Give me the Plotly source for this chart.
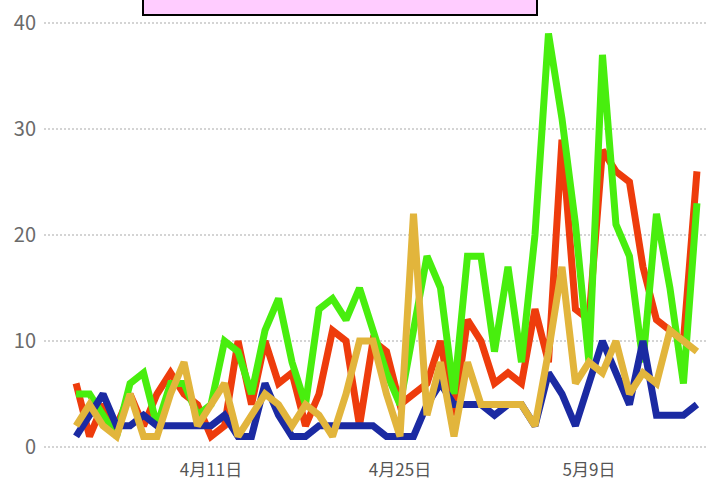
import plotly.graph_objects as go
import pandas as pd

dates = pd.date_range("2020-04-01", "2020-05-17", freq="D")

blue = [1, 3, 5, 2, 2, 3, 2, 2, 2, 2,
        2, 3, 1, 1, 6, 3, 1, 1, 2, 2,
        2, 2, 2, 1, 1, 1, 4, 6, 4, 4,
        4, 3, 4, 4, 2, 7, 5, 2, 6, 10,
        7, 4, 10, 3, 3, 3, 4]
red = [6, 1, 4, 2, 5, 2, 5, 7, 5, 4,
       1, 2, 10, 4, 10, 6, 7, 2, 5, 11,
       10, 2, 10, 9, 4, 5, 6, 10, 3, 12,
       10, 6, 7, 6, 13, 8, 29, 13, 12, 28,
       26, 25, 17, 12, 11, 10, 26]
green = [5, 5, 3, 1, 6, 7, 2, 6, 6, 3,
         4, 10, 9, 5, 11, 14, 8, 4, 13, 14,
         12, 15, 11, 7, 4, 11, 18, 15, 5, 18,
         18, 9, 17, 8, 20, 39, 31, 21, 8, 37,
         21, 18, 8, 22, 15, 6, 23]
gold = [2, 4, 2, 1, 5, 1, 1, 5, 8, 2,
        4, 6, 1, 3, 5, 4, 2, 4, 3, 1,
        5, 10, 10, 5, 1, 22, 3, 8, 1, 8,
        4, 4, 4, 4, 2, 9, 17, 6, 8, 7,
        10, 5, 7, 6, 11, 10, 9]

tick_dates = ["2020-04-11", "2020-04-25", "2020-05-09"]
tick_text = ["4月11日", "4月25日", "5月9日"]

series = [
    ("系列2", red, "#ee3c0c"),
    ("系列3", green, "#48ee0e"),
    ("系列1", blue, "#1b2aa2"),
    ("系列4", gold, "#e2b53c"),
]

fig = go.Figure()
for name, vals, color in series:
    fig.add_trace(go.Scatter(x=dates, y=vals, name=name, mode="lines",
                             line=dict(color=color, width=7)))

font = "Noto Sans CJK SC, sans-serif"
fig.update_layout(
    width=708, height=482,
    margin=dict(l=44, r=0, t=15, b=27),
    plot_bgcolor="white", paper_bgcolor="white",
    showlegend=False,
    font=dict(family=font, color="#666666", size=18),
)
fig.update_xaxes(
    range=["2020-03-29 15:00", "2020-05-17 19:40"],
    tickvals=tick_dates, ticktext=tick_text,
    showgrid=False, zeroline=False, showline=False,
    ticks="", automargin=False, ticklabelstandoff=3,
    ticklabeloverflow="allow",
    tickfont=dict(size=17, color="#555555"),
)
fig.update_yaxes(
    range=[-0.755, 40.755],
    tickvals=[0, 10, 20, 30, 40],
    showgrid=True, gridcolor="#d4d4d4", gridwidth=2, griddash="2px,2px",
    zeroline=False, showline=False, ticks="", automargin=False,
    ticklabelstandoff=7, ticklabeloverflow="allow",
    tickfont=dict(size=20, color="#6a6a6a"),
)

# pink box cut off at the top
fig.add_shape(type="rect", xref="paper", yref="paper",
              x0=(143 - 44) / 664, x1=(537 - 44) / 664, y0=1.0, y1=1.06,
              fillcolor="#ffccff", line=dict(color="black", width=2))

# drop the page's default body margin so the figure sits at the window corner
fig.write_html("out.html", config={"displayModeBar": False},
               post_script="document.body.style.margin='0';")
